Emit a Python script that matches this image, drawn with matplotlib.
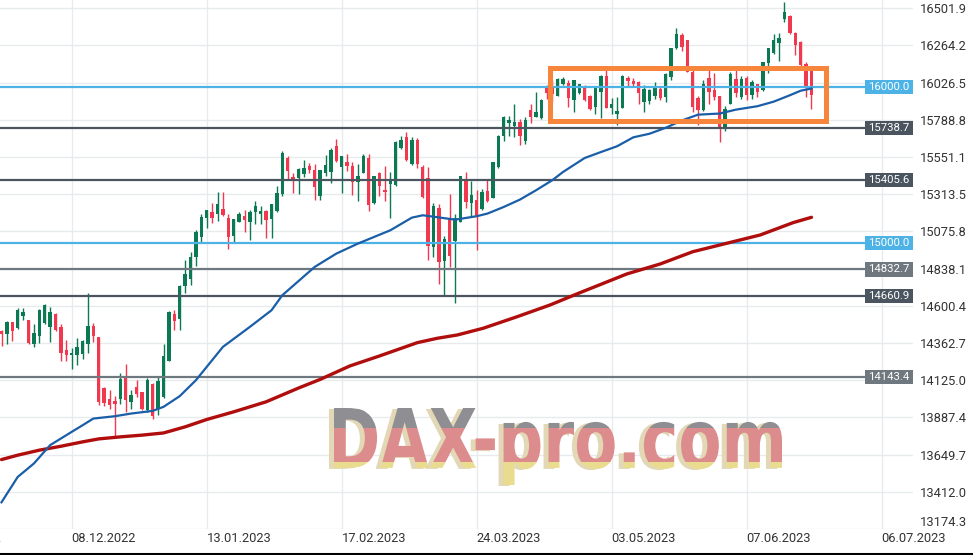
import numpy as np
import matplotlib
matplotlib.use("Agg")
import matplotlib.pyplot as plt
import matplotlib.transforms as mtransforms
from matplotlib.patches import Rectangle, PathPatch
from matplotlib.textpath import TextPath
from matplotlib.font_manager import FontProperties
from matplotlib.lines import Line2D

plt.rcParams['font.family'] = ['Roboto', 'DejaVu Sans']

# daily candles (one per trading day)
opens = [14440, 14419, 14496, 14457, 14534, 14508, 14355, 14406, 14491, 14466,
         14551, 14466, 14317, 14283, 14283, 14291, 14355, 14474, 14398, 14078,
         14006, 13993, 14006, 14142, 13989, 14082, 14048, 13933, 14104, 13938,
         14018, 14249, 14551, 14517, 14725, 14772, 14913, 15040, 15160, 15198,
         15185, 15219, 15164, 15049, 15134, 15177, 15138, 15198, 15185, 15207,
         15156, 15207, 15313, 15547, 15424, 15420, 15441, 15492, 15471, 15300,
         15449, 15454, 15620, 15488, 15522, 15492, 15394, 15449, 15543, 15258,
         15449, 15343, 15381, 15373, 15607, 15679, 15509, 15658, 15488, 15420,
         14977, 15228, 14884, 15164, 15015, 15139, 15407, 15258, 15279, 15220,
         15335, 15292, 15488, 15688, 15770, 15748, 15774, 15652, 15850, 15804,
         15803, 15990, 15990, 15944, 16016, 16025, 15918, 15961, 16008, 15939,
         15871, 15965, 16067, 15863, 15824, 15867, 16054, 16037, 16033, 15905,
         15910, 15939, 15986, 15935, 16063, 16246, 16331, 16297, 16095, 15931,
         15850, 16059, 15982, 15940, 15733, 15893, 16052, 15935, 16059, 15950,
         16016, 15982, 16153, 16216, 16280, 16434, 16455, 16344, 16287, 16148,
         16106]
highs = [14444, 14504, 14500, 14589, 14589, 14513, 14487, 14577, 14615, 14594,
         14555, 14487, 14381, 14329, 14393, 14385, 14683, 14491, 14402, 14082,
         14065, 14023, 14168, 14227, 14061, 14125, 14052, 14138, 14108, 14155,
         14355, 14568, 14572, 14734, 14891, 14943, 15083, 15185, 15215, 15258,
         15330, 15326, 15185, 15156, 15198, 15211, 15211, 15271, 15236, 15215,
         15253, 15369, 15590, 15556, 15449, 15479, 15530, 15513, 15509, 15466,
         15564, 15607, 15667, 15560, 15573, 15522, 15505, 15573, 15569, 15432,
         15454, 15496, 15458, 15654, 15688, 15714, 15679, 15675, 15501, 15490,
         15256, 15250, 15049, 15313, 15185, 15428, 15458, 15398, 15343, 15347,
         15411, 15522, 15692, 15811, 15812, 15893, 15791, 15804, 15893, 15968,
         15922, 16010, 16042, 16054, 16063, 16042, 16046, 16020, 16012, 15948,
         16003, 16076, 16105, 15931, 15935, 16076, 16071, 16059, 16037, 16012,
         15986, 16033, 16008, 16088, 16250, 16374, 16344, 16302, 16110, 15940,
         16042, 16106, 16089, 15940, 15876, 16095, 16127, 16067, 16067, 16042,
         16020, 16161, 16246, 16340, 16344, 16545, 16459, 16353, 16293, 16157,
         16110]
lows = [14342, 14359, 14376, 14453, 14513, 14359, 14338, 14364, 14487, 14368,
        14440, 14249, 14249, 14197, 14223, 14261, 14300, 14368, 13967, 13959,
        13942, 13763, 13976, 13921, 13938, 14018, 13933, 13925, 13878, 13903,
        14014, 14249, 14444, 14449, 14683, 14734, 14853, 15011, 15096, 15130,
        15143, 15177, 14964, 15002, 15134, 15075, 15019, 15121, 15126, 15036,
        15036, 15202, 15300, 15403, 15322, 15313, 15424, 15450, 15275, 15279,
        15432, 15386, 15522, 15322, 15462, 15309, 15271, 15449, 15207, 15249,
        15305, 15271, 15164, 15369, 15603, 15526, 15501, 15484, 15292, 14893,
        14915, 14740, 14661, 14849, 14619, 15134, 15224, 15173, 14955, 15215,
        15266, 15292, 15484, 15654, 15684, 15680, 15627, 15633, 15770, 15804,
        15795, 15920, 15903, 15939, 16010, 15871, 15839, 15956, 15910, 15854,
        15824, 15803, 15863, 15824, 15756, 15863, 16003, 16003, 15892, 15837,
        15888, 15922, 15914, 15905, 16046, 16242, 16229, 16093, 15839, 15754,
        15846, 15893, 15918, 15648, 15718, 15889, 15935, 15925, 15914, 15925,
        15935, 15974, 16089, 16208, 16165, 16417, 16340, 16202, 16127, 15935,
        15859]
closes = [14423, 14500, 14440, 14572, 14560, 14364, 14427, 14572, 14606, 14564,
          14444, 14300, 14283, 14300, 14338, 14376, 14470, 14406, 13984, 13980,
          13967, 13976, 14134, 13997, 14031, 14040, 13938, 14129, 13895, 14121,
          14278, 14560, 14504, 14726, 14802, 14913, 15070, 15168, 15211, 15160,
          15249, 15181, 15040, 15156, 15185, 15147, 15202, 15236, 15207, 15151,
          15249, 15322, 15577, 15462, 15403, 15475, 15484, 15466, 15360, 15466,
          15501, 15599, 15526, 15556, 15492, 15394, 15428, 15556, 15245, 15428,
          15369, 15330, 15398, 15645, 15658, 15535, 15662, 15505, 15296, 14985,
          15236, 14878, 15026, 14919, 15164, 15428, 15266, 15309, 15173, 15330,
          15271, 15518, 15688, 15807, 15787, 15776, 15684, 15787, 15808, 15838,
          15918, 15960, 15956, 16050, 16050, 15931, 16042, 16016, 15914, 15858,
          15999, 16067, 15867, 15888, 15846, 16067, 16037, 16016, 15961, 15986,
          15978, 15999, 15927, 16084, 16250, 16336, 16255, 16095, 15871, 15854,
          16020, 15967, 15935, 15733, 15861, 16080, 15961, 16052, 15950, 16029,
          15967, 16157, 16246, 16297, 16314, 16476, 16344, 16268, 16138, 15995,
          15950]

# moving averages, read at a set of bar positions
ma50_idx = [0, 3, 6, 9, 13, 15, 17, 21, 24, 28, 30, 33, 36, 41, 46, 50, 52, 58,
            62, 66, 72, 76, 78, 80, 84, 88, 90, 93, 96, 99, 102, 104, 108, 111,
            114, 117, 120, 123, 126, 129, 133, 136, 140, 143, 146, 148, 150]
ma50_val = [13345, 13507, 13593, 13710, 13795, 13837, 13880, 13895, 13912, 13929,
            13955, 14023, 14125, 14338, 14466, 14572, 14668, 14849, 14934, 14998,
            15083, 15164, 15179, 15170, 15151, 15173, 15190, 15232, 15279, 15339,
            15403, 15456, 15545, 15583, 15620, 15677, 15700, 15738, 15785, 15822,
            15829, 15854, 15876, 15905, 15946, 15975, 15989]
ma200_idx = [0, 3, 7, 11, 15, 18, 22, 26, 30, 34, 38, 43, 49, 55, 59, 64.5, 70,
             77, 80.7, 84.4, 89.2, 95.5, 101.6, 107.1, 115.8, 122, 128, 134.3,
             140.5, 146.6, 150]
ma200_val = [13618, 13646, 13678, 13703, 13731, 13750, 13763, 13774, 13788, 13827,
             13874, 13923, 13987, 14075, 14130, 14216, 14280, 14365, 14393, 14414,
             14457, 14531, 14606, 14684, 14804, 14868, 14946, 15000, 15053, 15132,
             15166]

# horizontal levels
levels = [16000.0, 15738.7, 15405.6, 15000.0, 14832.7, 14660.9, 14143.4]
level_kind = ['round', 'main', 'main', 'round', 'minor', 'main', 'minor']

# sideways range box
range_start, range_end = 101.5, 152.6
range_low, range_high = 15784, 16120

date_ticks = [13, 38, 63, 88, 113, 138, 163]
date_labels = ['08.12.2022', '13.01.2023', '17.02.2023', '24.03.2023',
               '03.05.2023', '07.06.2023', '06.07.2023']
price_ticks = [13174.3, 13412.0, 13649.7, 13887.4, 14125.0, 14362.7, 14600.4,
               14838.1, 15075.8, 15313.5, 15551.1, 15788.8, 16026.5, 16264.2,
               16501.9]

GREEN = '#0b7a53'
RED = '#f0394e'
GRID = '#e8ebee'
TXT = '#333333'
kind_color = {'round': '#4db3e6', 'main': '#4a5560', 'minor': '#6f787f'}

W, H = 973, 555
fig = plt.figure(figsize=(W / 100, H / 100), dpi=100)
fig.patch.set_facecolor('white')
ax = fig.add_axes([0, 26 / H, 913 / W, 529 / H])
ax.set_xlim(-0.28, 168.8)
ax.set_ylim(13174.3, 16554.6)
for s in ax.spines.values():
    s.set_visible(False)

# grid
ax.set_xticks(date_ticks)
ax.set_xticklabels(date_labels, ha='left', fontsize=9.3, color=TXT)
ax.set_yticks(price_ticks)
ax.set_yticklabels(['%.1f' % v for v in price_ticks], fontsize=9.3, color=TXT)
ax.yaxis.tick_right()
ax.tick_params(axis='both', length=0)
ax.tick_params(axis='y', pad=5)
ax.tick_params(axis='x', pad=2)
ax.yaxis.get_major_ticks()[0].label2.set_verticalalignment('bottom')
ax.grid(True, color=GRID, lw=1.0, zorder=0)
ax.set_axisbelow(True)
# partly cut label at the left edge
ax.text(-12, -0.005, '03.11.2022', transform=mtransforms.blended_transform_factory(ax.transData, ax.transAxes),
        ha='left', va='top', fontsize=9.3, color=TXT, clip_on=False)

# candles
x = np.arange(len(opens))
o = np.array(opens, float)
c = np.array(closes, float)
cols = np.where(c >= o, GREEN, RED)
ax.vlines(x, lows, highs, colors=cols, lw=1.0, zorder=2)
ax.bar(x, np.maximum(np.abs(c - o), 7), bottom=np.minimum(o, c), width=0.64,
       color=cols, lw=0, zorder=2)

# levels with price tags
bt = mtransforms.blended_transform_factory(ax.transAxes, ax.transData)
for lvl, kind in zip(levels, level_kind):
    col = kind_color[kind]
    ax.axhline(lvl, xmin=0, xmax=0.948, color=col, lw=1.6, zorder=3)
    ax.add_patch(Rectangle((0.9474, lvl - 45), 0.0526, 90, transform=bt,
                           color=col, lw=0, zorder=6, clip_on=False))
    ax.text(0.9737, lvl, '%.1f' % lvl, transform=bt, ha='center', va='center',
            fontsize=8.2, color='white', zorder=7, clip_on=False)

# moving averages
ax.plot(ma200_idx, ma200_val, color='#b00d0d', lw=2.4, zorder=4,
        solid_capstyle='round', solid_joinstyle='round')
ax.plot(ma50_idx, ma50_val, color='#1a5ea8', lw=1.6, zorder=4,
        solid_joinstyle='round')

# range box
ax.add_patch(Rectangle((range_start, range_low), range_end - range_start,
                       range_high - range_low, fill=False, ec='#f7863c',
                       lw=3.6, zorder=5))

# watermark
ov = fig.add_axes([0, 0, 1, 1], zorder=3)
ov.set_xlim(0, W)
ov.set_ylim(H, 0)
ov.axis('off')
ov.patch.set_alpha(0)

fp = FontProperties(family='DejaVu Sans', weight='bold')
tp = TextPath((0, 0), 'DAX-pro.com', size=100, prop=fp)
ext = tp.get_extents()
x0, x1, y0, y1 = 334, 782, 408, 485
tr = (mtransforms.Affine2D().translate(-ext.x0, -ext.y1)
      .scale((x1 - x0) / ext.width, -(y1 - y0) / ext.height).translate(x0, y0))
wpath = tr.transform_path(tp)
shadow = PathPatch(mtransforms.Affine2D().translate(-5, 1).transform_path(wpath),
                   fc='#e2d8b6', ec='none', zorder=1)
ov.add_patch(shadow)
clip = PathPatch(wpath, fc='none', ec='none', zorder=2)
ov.add_patch(clip)
for ya, yb, col in [(400, 428, '#8e8e93'), (428, 462, '#dc8c8c'), (462, 495, '#e9dc8f')]:
    r = Rectangle((x0 - 10, ya), x1 - x0 + 20, yb - ya, color=col, lw=0, zorder=2)
    ov.add_patch(r)
    r.set_clip_path(clip)

# bottom border
fig.add_artist(Line2D([0, 1], [1.5 / H, 1.5 / H], color='black', lw=2.2,
                      transform=fig.transFigure))

fig.savefig('out.png', dpi=100, facecolor='white')
